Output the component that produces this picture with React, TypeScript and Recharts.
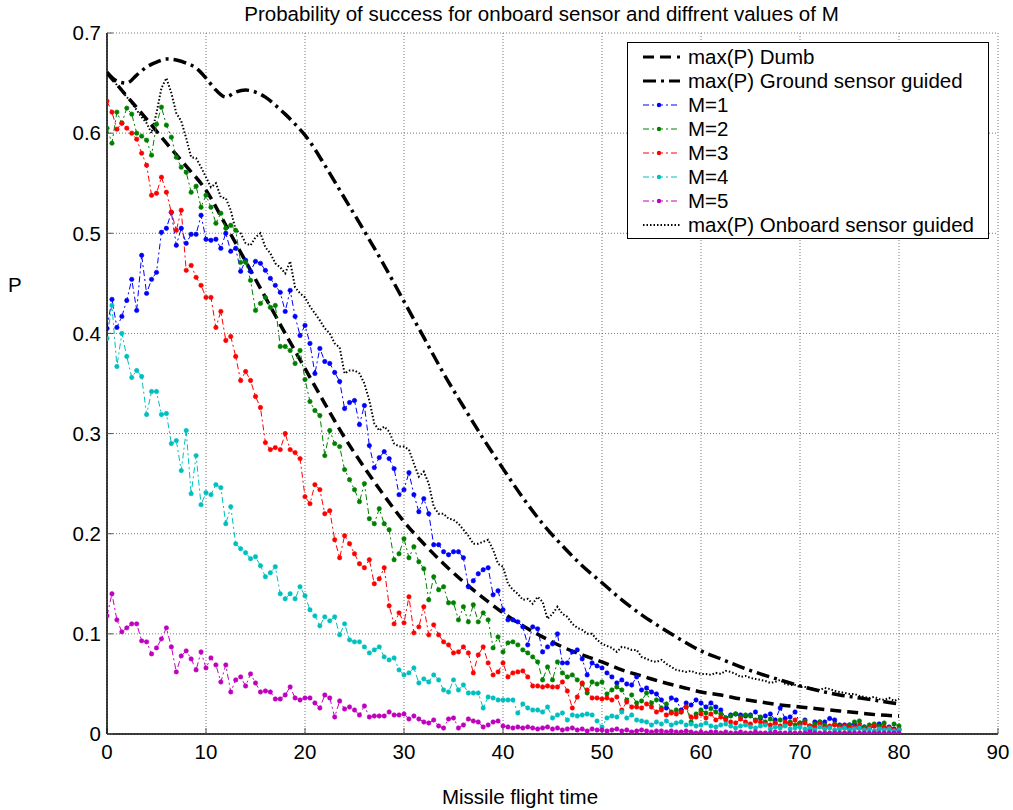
import { LineChart, Line, XAxis, YAxis, CartesianGrid } from 'recharts';

const FONT = '"Liberation Sans", Arial, sans-serif';

// sample times of the M-series (s)
const time = [
  0, 0.5, 1, 1.5, 2, 2.5, 3, 3.5, 4, 4.5,
  5, 5.5, 6, 6.5, 7, 7.5, 8, 8.5, 9, 9.5,
  10, 10.5, 11, 11.5, 12, 12.5, 13, 13.5, 14, 14.5,
  15, 15.5, 16, 16.5, 17, 17.5, 18, 18.5, 19, 19.5,
  20, 20.5, 21, 21.5, 22, 22.5, 23, 23.5, 24, 24.5,
  25, 25.5, 26, 26.5, 27, 27.5, 28, 28.5, 29, 29.5,
  30, 30.5, 31, 31.5, 32, 32.5, 33, 33.5, 34, 34.5,
  35, 35.5, 36, 36.5, 37, 37.5, 38, 38.5, 39, 39.5,
  40, 40.5, 41, 41.5, 42, 42.5, 43, 43.5, 44, 44.5,
  45, 45.5, 46, 46.5, 47, 47.5, 48, 48.5, 49, 49.5,
  50, 50.5, 51, 51.5, 52, 52.5, 53, 53.5, 54, 54.5,
  55, 55.5, 56, 56.5, 57, 57.5, 58, 58.5, 59, 59.5,
  60, 60.5, 61, 61.5, 62, 62.5, 63, 63.5, 64, 64.5,
  65, 65.5, 66, 66.5, 67, 67.5, 68, 68.5, 69, 69.5,
  70, 70.5, 71, 71.5, 72, 72.5, 73, 73.5, 74, 74.5,
  75, 75.5, 76, 76.5, 77, 77.5, 78, 78.5, 79, 79.5,
  80,
];

const m1 = [
  0.405, 0.434, 0.406, 0.417, 0.433, 0.454, 0.423, 0.478, 0.44, 0.454,
  0.461, 0.501, 0.505, 0.521, 0.488, 0.505, 0.49, 0.499, 0.499, 0.518,
  0.494, 0.493, 0.494, 0.485, 0.5, 0.482, 0.485, 0.462, 0.473, 0.462,
  0.472, 0.47, 0.463, 0.455, 0.448, 0.441, 0.422, 0.443, 0.417, 0.398,
  0.408, 0.39, 0.36, 0.385, 0.372, 0.37, 0.361, 0.352, 0.325, 0.331,
  0.333, 0.309, 0.328, 0.288, 0.266, 0.276, 0.282, 0.275, 0.265, 0.239,
  0.244, 0.261, 0.239, 0.222, 0.235, 0.22, 0.189, 0.189, 0.182, 0.179,
  0.182, 0.182, 0.176, 0.147, 0.153, 0.16, 0.164, 0.166, 0.139, 0.143,
  0.124, 0.114, 0.114, 0.112, 0.107, 0.089, 0.107, 0.105, 0.082, 0.087,
  0.09, 0.1, 0.071, 0.071, 0.082, 0.084, 0.075, 0.059, 0.071, 0.068,
  0.066, 0.061, 0.057, 0.051, 0.054, 0.05, 0.049, 0.057, 0.044, 0.046,
  0.042, 0.04, 0.034, 0.026, 0.036, 0.034, 0.024, 0.031, 0.029, 0.034,
  0.031, 0.027, 0.031, 0.027, 0.024, 0.016, 0.019, 0.02, 0.019, 0.018,
  0.019, 0.022, 0.016, 0.018, 0.02, 0.014, 0.026, 0.0155, 0.017, 0.022,
  0.0105, 0.014, 0.004, 0.012, 0.012, 0.012, 0.0155, 0.014, 0.009, 0.009,
  0.009, 0.01, 0.006, 0.007, 0.006, 0.008, 0.01, 0.006, 0.007, 0.005,
  0.004,
];

const m2 = [
  0.605, 0.59, 0.621, 0.61, 0.625, 0.619, 0.6, 0.597, 0.593, 0.578,
  0.609, 0.626, 0.608, 0.596, 0.576, 0.566, 0.561, 0.541, 0.547, 0.526,
  0.538, 0.526, 0.51, 0.52, 0.505, 0.508, 0.503, 0.471, 0.471, 0.453,
  0.423, 0.43, 0.436, 0.426, 0.428, 0.387, 0.387, 0.383, 0.37, 0.383,
  0.354, 0.332, 0.323, 0.318, 0.278, 0.303, 0.29, 0.287, 0.264, 0.254,
  0.244, 0.232, 0.25, 0.215, 0.21, 0.225, 0.21, 0.204, 0.174, 0.18,
  0.195, 0.176, 0.187, 0.172, 0.165, 0.134, 0.157, 0.144, 0.147, 0.131,
  0.131, 0.114, 0.127, 0.112, 0.129, 0.112, 0.121, 0.114, 0.086, 0.097,
  0.082, 0.091, 0.092, 0.089, 0.084, 0.081, 0.077, 0.072, 0.054, 0.067,
  0.054, 0.072, 0.061, 0.057, 0.059, 0.054, 0.05, 0.041, 0.052, 0.05,
  0.052, 0.04, 0.044, 0.047, 0.044, 0.034, 0.039, 0.031, 0.033, 0.041,
  0.031, 0.034, 0.026, 0.03, 0.022, 0.024, 0.022, 0.027, 0.012, 0.02,
  0.024, 0.021, 0.0255, 0.022, 0.02, 0.016, 0.018, 0.02, 0.017, 0.019,
  0.018, 0.014, 0.017, 0.012, 0.015, 0.011, 0.014, 0.01, 0.012, 0.009,
  0.011, 0.013, 0.008, 0.01, 0.012, 0.009, 0.007, 0.01, 0.008, 0.006,
  0.009, 0.012, 0.013, 0.007, 0.009, 0.01, 0.008, 0.011, 0.006, 0.01,
  0.008,
];

const m3 = [
  0.632, 0.621, 0.604, 0.61, 0.605, 0.6, 0.594, 0.58, 0.568, 0.538,
  0.54, 0.556, 0.541, 0.521, 0.503, 0.523, 0.463, 0.468, 0.456, 0.448,
  0.436, 0.436, 0.406, 0.422, 0.393, 0.397, 0.377, 0.353, 0.362, 0.353,
  0.337, 0.326, 0.291, 0.284, 0.286, 0.284, 0.3, 0.284, 0.281, 0.275,
  0.237, 0.23, 0.249, 0.244, 0.22, 0.223, 0.194, 0.176, 0.198, 0.19,
  0.18, 0.17, 0.166, 0.174, 0.15, 0.155, 0.166, 0.128, 0.11, 0.121,
  0.111, 0.137, 0.101, 0.107, 0.127, 0.099, 0.109, 0.099, 0.092, 0.089,
  0.081, 0.082, 0.087, 0.081, 0.061, 0.079, 0.087, 0.071, 0.059, 0.062,
  0.071, 0.057, 0.061, 0.062, 0.063, 0.057, 0.048, 0.048, 0.047, 0.048,
  0.047, 0.047, 0.052, 0.043, 0.026, 0.037, 0.051, 0.044, 0.036, 0.036,
  0.035, 0.036, 0.034, 0.037, 0.024, 0.032, 0.027, 0.027, 0.026, 0.03,
  0.027, 0.022, 0.024, 0.019, 0.021, 0.02, 0.022, 0.027, 0.017, 0.017,
  0.02, 0.016, 0.02, 0.014, 0.017, 0.014, 0.012, 0.011, 0.015, 0.012,
  0.01, 0.013, 0.012, 0.01, 0.009, 0.011, 0.008, 0.012, 0.01, 0.014,
  0.009, 0.011, 0.008, 0.007, 0.01, 0.006, 0.008, 0.009, 0.007, 0.008,
  0.006, 0.007, 0.009, 0.005, 0.006, 0.008, 0.005, 0.007, 0.006, 0.004,
  0.005,
];

const m4 = [
  0.395, 0.428, 0.367, 0.4, 0.377, 0.356, 0.363, 0.357, 0.319, 0.342,
  0.342, 0.319, 0.32, 0.29, 0.293, 0.263, 0.303, 0.24, 0.278, 0.229,
  0.241, 0.239, 0.249, 0.246, 0.21, 0.227, 0.19, 0.185, 0.181, 0.175,
  0.177, 0.168, 0.157, 0.161, 0.167, 0.14, 0.135, 0.14, 0.135, 0.147,
  0.138, 0.124, 0.118, 0.108, 0.117, 0.113, 0.117, 0.099, 0.11, 0.094,
  0.092, 0.092, 0.087, 0.081, 0.084, 0.087, 0.077, 0.074, 0.076, 0.064,
  0.059, 0.061, 0.066, 0.051, 0.055, 0.052, 0.059, 0.054, 0.044, 0.042,
  0.054, 0.044, 0.049, 0.041, 0.041, 0.041, 0.026, 0.037, 0.036, 0.034,
  0.034, 0.034, 0.034, 0.021, 0.03, 0.026, 0.024, 0.024, 0.022, 0.027,
  0.016, 0.019, 0.021, 0.014, 0.019, 0.018, 0.019, 0.02, 0.019, 0.013,
  0.007, 0.016, 0.018, 0.017, 0.022, 0.016, 0.019, 0.014, 0.013, 0.012,
  0.009, 0.012, 0.01, 0.013, 0.009, 0.011, 0.012, 0.009, 0.01, 0.008,
  0.009, 0.011, 0.008, 0.007, 0.009, 0.01, 0.008, 0.006, 0.008, 0.009,
  0.007, 0.006, 0.008, 0.009, 0.005, 0.007, 0.006, 0.008, 0.005, 0.006,
  0.007, 0.005, 0.006, 0.004, 0.007, 0.005, 0.006, 0.004, 0.005, 0.006,
  0.004, 0.005, 0.006, 0.004, 0.005, 0.003, 0.005, 0.004, 0.005, 0.003,
  0.004,
];

const m5 = [
  0.118, 0.14, 0.114, 0.102, 0.106, 0.11, 0.11, 0.093, 0.092, 0.08,
  0.086, 0.095, 0.106, 0.087, 0.062, 0.078, 0.083, 0.075, 0.064, 0.082,
  0.066, 0.076, 0.069, 0.052, 0.069, 0.042, 0.054, 0.057, 0.048, 0.06,
  0.051, 0.042, 0.043, 0.042, 0.035, 0.035, 0.039, 0.047, 0.036, 0.034,
  0.036, 0.036, 0.031, 0.026, 0.039, 0.036, 0.017, 0.033, 0.025, 0.027,
  0.024, 0.019, 0.028, 0.017, 0.018, 0.018, 0.018, 0.022, 0.019, 0.019,
  0.02, 0.015, 0.018, 0.015, 0.012, 0.011, 0.014, 0.008, 0.006, 0.015,
  0.016, 0.006, 0.009, 0.015, 0.013, 0.012, 0.007, 0.009, 0.012, 0.013,
  0.008, 0.007, 0.006, 0.007, 0.006, 0.007, 0.006, 0.005, 0.006, 0.007,
  0.005, 0.006, 0.004, 0.005, 0.006, 0.004, 0.005, 0.003, 0.005, 0.004,
  0.004, 0.003, 0.004, 0.005, 0.003, 0.004, 0.002, 0.003, 0.004, 0.003,
  0.002, 0.003, 0.003, 0.002, 0.003, 0.002, 0.002, 0.003, 0.002, 0.001,
  0.002, 0.001, 0.002, 0.002, 0.001, 0.002, 0.001, 0.001, 0.002, 0.001,
  0.001, 0.002, 0.001, 0.001, 0.001, 0.002, 0.001, 0.001, 0.001, 0.001,
  0.001, 0.001, 0.002, 0.001, 0.001, 0.001, 0.001, 0.001, 0.001, 0.001,
  0.001, 0.001, 0.001, 0.001, 0.001, 0.001, 0.001, 0.001, 0.001, 0.001,
  0.001,
];

const onboard = [
  0.66, 0.655, 0.648, 0.642, 0.636, 0.63, 0.623, 0.616, 0.61, 0.6,
  0.62, 0.645, 0.655, 0.64, 0.62, 0.612, 0.595, 0.576, 0.575, 0.566,
  0.556, 0.546, 0.55, 0.536, 0.535, 0.523, 0.503, 0.5, 0.49, 0.488,
  0.496, 0.5, 0.486, 0.48, 0.47, 0.466, 0.46, 0.472, 0.446, 0.44,
  0.436, 0.427, 0.42, 0.413, 0.405, 0.4, 0.39, 0.386, 0.36, 0.363,
  0.363, 0.36, 0.35, 0.333, 0.31, 0.303, 0.307, 0.302, 0.29, 0.287,
  0.287, 0.284, 0.27, 0.257, 0.262, 0.25, 0.227, 0.22, 0.22, 0.215,
  0.214, 0.21, 0.204, 0.198, 0.19, 0.19, 0.192, 0.194, 0.184, 0.17,
  0.167, 0.15, 0.144, 0.14, 0.134, 0.135, 0.13, 0.137, 0.132, 0.115,
  0.12, 0.127, 0.12, 0.117, 0.11, 0.106, 0.104, 0.1, 0.1, 0.094,
  0.09, 0.088, 0.086, 0.082, 0.087, 0.086, 0.084, 0.084, 0.077, 0.075,
  0.073, 0.072, 0.074, 0.07, 0.067, 0.064, 0.063, 0.062, 0.063, 0.061,
  0.06, 0.06, 0.059, 0.061, 0.06, 0.063, 0.062, 0.06, 0.057, 0.058,
  0.056, 0.055, 0.054, 0.053, 0.051, 0.052, 0.054, 0.05, 0.049, 0.049,
  0.047, 0.047, 0.046, 0.045, 0.044, 0.046, 0.045, 0.043, 0.042, 0.041,
  0.04, 0.04, 0.038, 0.037, 0.036, 0.037, 0.035, 0.034, 0.036, 0.033,
  0.035,
];

const dumbTime = [0, 2, 4, 6, 8, 10, 12, 14, 16, 18, 20, 22, 24, 26, 28, 30, 32, 34, 36, 38, 40, 42, 44, 46, 48, 50, 52, 54, 56, 58, 60, 62, 64, 66, 68, 70, 72, 74, 76, 78, 80];
const dumbP = [
  0.66, 0.637, 0.614, 0.59, 0.567, 0.543, 0.508, 0.472, 0.436, 0.4, 0.365,
  0.33, 0.296, 0.266, 0.238, 0.212, 0.19, 0.17, 0.152, 0.136, 0.121,
  0.108, 0.097, 0.087, 0.079, 0.072, 0.064, 0.058, 0.052, 0.047, 0.042,
  0.039, 0.035, 0.032, 0.029, 0.027, 0.025, 0.023, 0.021, 0.019, 0.018,
];

const groundTime = [0, 1, 2, 3, 4, 5, 6, 7, 8, 9, 10, 11, 12, 13, 14, 15, 16, 17, 18, 19, 20, 22, 24, 26, 28, 30, 32, 34, 36, 38, 40, 42, 44, 46, 48, 50, 52, 54, 56, 58, 60, 62, 64, 66, 68, 70, 72, 74, 76, 78, 80];
const groundP = [
  0.661, 0.652, 0.65, 0.658, 0.666, 0.671, 0.674, 0.673, 0.67, 0.665,
  0.655, 0.643, 0.636, 0.641, 0.643, 0.641, 0.636, 0.628, 0.619, 0.609,
  0.598, 0.568, 0.535, 0.502, 0.468, 0.432, 0.396, 0.36, 0.327, 0.295,
  0.265, 0.236, 0.21, 0.188, 0.168, 0.151, 0.134, 0.119, 0.106, 0.094,
  0.083, 0.075, 0.067, 0.06, 0.054, 0.048, 0.043, 0.039, 0.036, 0.033,
  0.03,
];

const xTicks = [0, 10, 20, 30, 40, 50, 60, 70, 80, 90];
const yTicks = [0, 0.1, 0.2, 0.3, 0.4, 0.5, 0.6, 0.7];

const mSeries = [
  { key: 'm1', name: 'M=1', color: '#0000ff' },
  { key: 'm2', name: 'M=2', color: '#008000' },
  { key: 'm3', name: 'M=3', color: '#ff0000' },
  { key: 'm4', name: 'M=4', color: '#00bfbf' },
  { key: 'm5', name: 'M=5', color: '#bf00bf' },
];

const rows = time.map((t, i) => ({
  t,
  m1: m1[i],
  m2: m2[i],
  m3: m3[i],
  m4: m4[i],
  m5: m5[i],
  onboard: onboard[i],
}));
const dumbRows = dumbTime.map((t, i) => ({ t, p: dumbP[i] }));
const groundRows = groundTime.map((t, i) => ({ t, p: groundP[i] }));

const DASH = '11 6';
const DASH_DOT = '13 5 3 5';
const THIN_DASH_DOT = '6 3 2 3';
const DOTTED = '1.5 2';

const legendItems = [
  { name: 'max(P) Dumb', color: '#000', width: 3, dash: DASH, dot: false },
  { name: 'max(P) Ground sensor guided', color: '#000', width: 3, dash: DASH_DOT, dot: false },
  ...mSeries.map((s) => ({ name: s.name, color: s.color, width: 1, dash: THIN_DASH_DOT, dot: true })),
  { name: 'max(P) Onboard sensor guided', color: '#000', width: 2, dash: DOTTED, dot: false },
];

const textStyle = { position: 'absolute' as const, fontFamily: FONT, fontSize: 20.5, color: '#000', lineHeight: '24px', whiteSpace: 'nowrap' as const };

export default function App() {
  return (
    <div style={{ position: 'absolute', left: 0, top: 0, width: 1013, height: 810, background: '#fff' }}>
      <LineChart
        width={1013}
        height={810}
        data={rows}
        margin={{ top: 33, right: 15, bottom: 46, left: 47 }}
      >
        <CartesianGrid stroke="#777" strokeDasharray="1 2" />
        <XAxis
          dataKey="t"
          type="number"
          domain={[0, 90]}
          ticks={xTicks}
          height={30}
          tickSize={-6}
          tickMargin={16}
          axisLine={{ stroke: '#000', strokeWidth: 1.5 }}
          tickLine={{ stroke: '#555' }}
          tick={{ fill: '#000', fontSize: 20.5, fontFamily: FONT }}
          allowDataOverflow
        />
        <YAxis
          type="number"
          domain={[0, 0.7]}
          ticks={yTicks}
          width={60}
          tickSize={-6}
          tickMargin={12}
          tickFormatter={(v: number) => (v === 0 ? '0' : v.toFixed(1))}
          axisLine={{ stroke: '#000', strokeWidth: 1.5 }}
          tickLine={{ stroke: '#555' }}
          tick={{ fill: '#000', fontSize: 20.5, fontFamily: FONT }}
          allowDataOverflow
        />
        <Line
          data={dumbRows}
          dataKey="p"
          type="monotone"
          stroke="#000"
          strokeWidth={3.5}
          strokeDasharray={DASH}
          dot={false}
          isAnimationActive={false}
        />
        <Line
          data={groundRows}
          dataKey="p"
          type="monotone"
          stroke="#000"
          strokeWidth={3.5}
          strokeDasharray={DASH_DOT}
          dot={false}
          isAnimationActive={false}
        />
        {mSeries.map((s) => (
          <Line
            key={s.key}
            dataKey={s.key}
            type="linear"
            stroke={s.color}
            strokeWidth={1}
            strokeDasharray={THIN_DASH_DOT}
            dot={{ r: 2.2, fill: s.color, stroke: s.color, strokeWidth: 0.6, strokeDasharray: '' }}
            isAnimationActive={false}
          />
        ))}
        <Line
          dataKey="onboard"
          type="linear"
          stroke="#000"
          strokeWidth={2}
          strokeDasharray={DOTTED}
          dot={false}
          isAnimationActive={false}
        />
      </LineChart>

      <div style={{ ...textStyle, left: 0, width: 1083, top: 2, textAlign: 'center' }}>
        Probability of success for onboard sensor and diffrent values of M
      </div>
      <div style={{ ...textStyle, left: 8, top: 273 }}>P</div>
      <div style={{ ...textStyle, left: 0, width: 1040, top: 785, textAlign: 'center' }}>
        Missile flight time
      </div>

      <div
        style={{
          position: 'absolute',
          left: 627,
          top: 42,
          width: 362,
          height: 197,
          border: '1px solid #000',
          background: '#fff',
          boxSizing: 'border-box',
        }}
      >
        {legendItems.map((item, i) => (
          <div key={item.name} style={{ position: 'absolute', left: 0, top: 2 + i * 24, height: 24, width: '100%' }}>
            <svg width={60} height={24} style={{ position: 'absolute', left: 0, top: 0 }}>
              <line
                x1={15}
                x2={52}
                y1={12}
                y2={12}
                stroke={item.color}
                strokeWidth={item.width}
                strokeDasharray={item.dash}
              />
              {item.dot && <circle cx={31} cy={12} r={2.2} fill={item.color} />}
            </svg>
            <div style={{ ...textStyle, left: 60, top: 0 }}>{item.name}</div>
          </div>
        ))}
      </div>
    </div>
  );
}
